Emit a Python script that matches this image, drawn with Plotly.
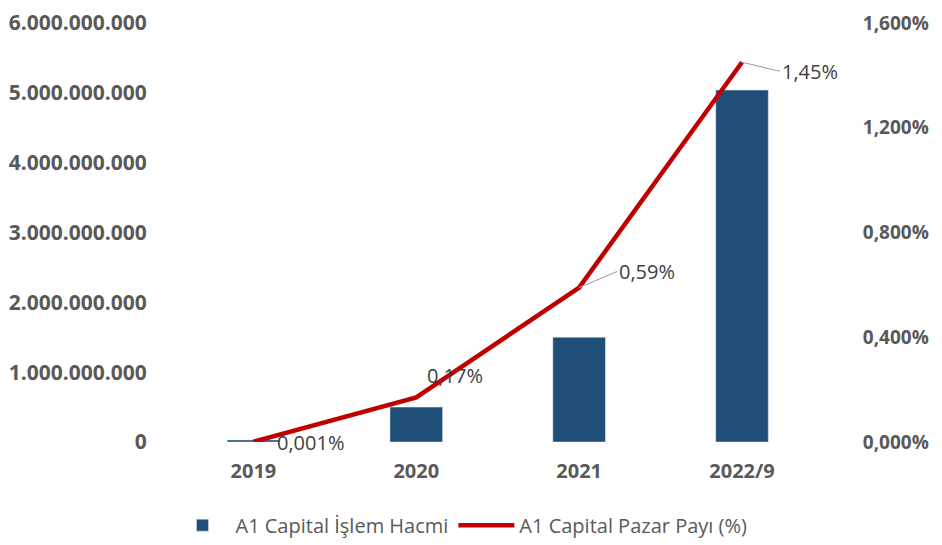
import plotly.graph_objects as go

years = ["2019", "2020", "2021", "2022/9"]
volume = [30_000_000, 500_000_000, 1_500_000_000, 5_040_000_000]
share = [0.001, 0.17, 0.59, 1.45]
share_labels = ["0,001%", "0,17%", "0,59%", "1,45%"]

left_ticks = [0, 1e9, 2e9, 3e9, 4e9, 5e9, 6e9]
left_text = ["0", "1.000.000.000", "2.000.000.000", "3.000.000.000",
             "4.000.000.000", "5.000.000.000", "6.000.000.000"]
right_ticks = [0, 0.4, 0.8, 1.2, 1.6]
right_text = ["0,000%", "0,400%", "0,800%", "1,200%", "1,600%"]

grey = "#595959"
clear = "rgba(0,0,0,0)"

fig = go.Figure()
fig.add_trace(go.Bar(x=years, y=volume, name="A1 Capital İşlem Hacmi",
                     marker_color="#1f4e79"))
fig.add_trace(go.Scatter(x=years, y=share, name="A1 Capital Pazar Payı (%)",
                         yaxis="y2", mode="lines",
                         line=dict(color="#c00000", width=4.5)))

# data labels placed like the original
lab_font = dict(size=20, color="#404040")
fig.add_annotation(x=0, y=share[0], xref="x", yref="y2", text=share_labels[0],
                   showarrow=False, xanchor="left", xshift=22, yshift=-1,
                   font=lab_font)
fig.add_annotation(x=1, y=share[1], xref="x", yref="y2", text=share_labels[1],
                   showarrow=False, xanchor="left", xshift=9, yshift=22,
                   font=lab_font)
fig.add_annotation(x=2, y=share[2], xref="x", yref="y2", text=share_labels[2],
                   showarrow=True, arrowhead=0, arrowwidth=1.2, arrowcolor="#a6a6a6",
                   ax=38, ay=-16, xanchor="left", font=lab_font)
fig.add_annotation(x=3, y=share[3], xref="x", yref="y2", text=share_labels[3],
                   showarrow=True, arrowhead=0, arrowwidth=1.2, arrowcolor="#a6a6a6",
                   ax=38, ay=9, xanchor="left", font=lab_font)

# page body keeps an 8px margin, so the figure is a bit smaller than the window
fig.update_layout(
    width=934, height=537,
    margin=dict(l=164, r=102, t=15, b=103),
    plot_bgcolor="white", paper_bgcolor="white",
    font=dict(family="Open Sans", color=grey),
    bargap=0.677,
    xaxis=dict(type="category", showgrid=False, showline=False, automargin=False,
               tickvals=years, ticktext=["<b>%s</b>" % y for y in years],
               ticks="outside", ticklen=11, tickcolor=clear,
               tickfont=dict(size=20, color=grey)),
    yaxis=dict(range=[0, 6e9], tickvals=left_ticks, automargin=False,
               ticktext=["<b>%s</b>" % t for t in left_text],
               ticklabeloverflow="allow",
               showgrid=False, zeroline=False, showline=False,
               ticks="outside", ticklen=20, tickcolor=clear,
               tickfont=dict(size=21, color=grey)),
    yaxis2=dict(range=[0, 1.6], tickvals=right_ticks, automargin=False,
                ticktext=["<b>%s</b>" % t for t in right_text],
                ticklabeloverflow="allow",
                overlaying="y", side="right", showgrid=False, zeroline=False,
                ticks="outside", ticklen=18, tickcolor=clear,
                tickfont=dict(size=19, color=grey)),
    legend=dict(orientation="h", xref="container", x=0.485, xanchor="center",
                yref="container", y=0.037, yanchor="middle", itemwidth=56,
                font=dict(size=20, color=grey)),
)

fig.write_html("out.html")
